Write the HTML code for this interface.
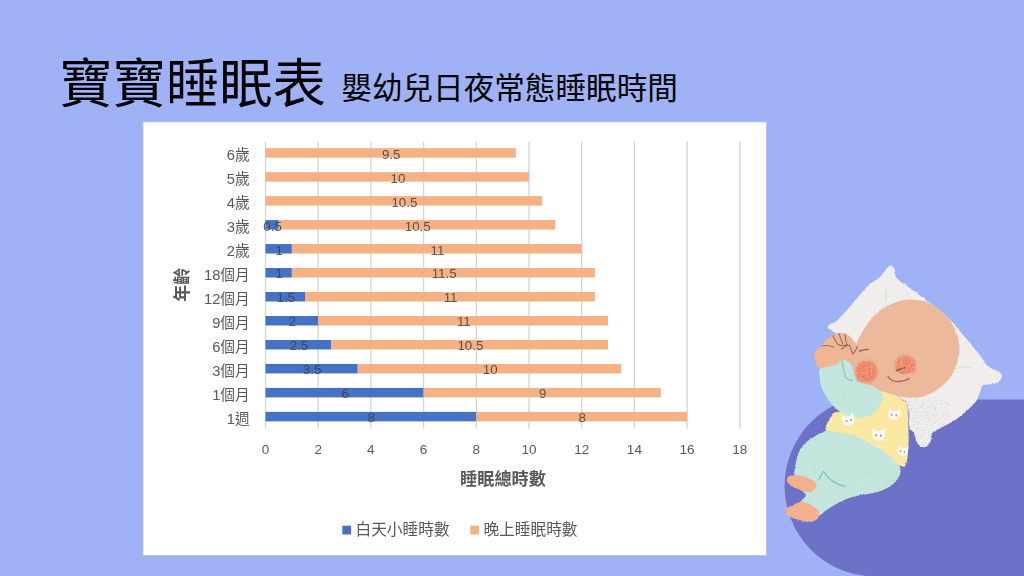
<!DOCTYPE html>
<html lang="zh-Hant"><head><meta charset="utf-8"><title>寶寶睡眠表</title>
<style>
html,body{margin:0;padding:0;width:1024px;height:576px;overflow:hidden;background:#9EB2F5;font-family:"Liberation Sans",sans-serif}
#stage{position:relative;width:1024px;height:576px;overflow:hidden;background:#9EB2F5}
#stage svg{position:absolute;left:0;top:0;display:block}
#stage svg text{font-family:"Liberation Sans","Noto Sans CJK TC",sans-serif}
</style></head><body>
<div id="stage">
<svg width="1024" height="576" viewBox="0 0 1024 576">
<defs><filter id="soft" x="-2%" y="-2%" width="104%" height="104%"><feGaussianBlur stdDeviation="0.35"/></filter></defs>
<path d="M848.73 399.50A90.40 90.40 0 0 0 875.00 576.40L1024 576.40L1024 399.50Z" fill="#6C72C8"/>
<text x="59.3" y="103.3" font-size="53.3" fill="#000">寶寶睡眠表</text>
<text x="341.3" y="99" font-size="30.6" fill="#000">嬰幼兒日夜常態睡眠時間</text>
<g filter="url(#soft)">
<rect x="143.00" y="121.90" width="623.40" height="433.50" fill="#fff" stroke="#B9BCE6" stroke-width="0.8"/>
<rect x="264.85" y="141.50" width="1.3" height="287.20" fill="#D5D5D5"/>
<rect x="317.55" y="141.50" width="1.3" height="287.20" fill="#D5D5D5"/>
<rect x="370.25" y="141.50" width="1.3" height="287.20" fill="#D5D5D5"/>
<rect x="422.95" y="141.50" width="1.3" height="287.20" fill="#D5D5D5"/>
<rect x="475.65" y="141.50" width="1.3" height="287.20" fill="#D5D5D5"/>
<rect x="528.35" y="141.50" width="1.3" height="287.20" fill="#D5D5D5"/>
<rect x="581.05" y="141.50" width="1.3" height="287.20" fill="#D5D5D5"/>
<rect x="633.75" y="141.50" width="1.3" height="287.20" fill="#D5D5D5"/>
<rect x="686.45" y="141.50" width="1.3" height="287.20" fill="#D5D5D5"/>
<rect x="739.15" y="141.50" width="1.3" height="287.20" fill="#D5D5D5"/>
<rect x="265.50" y="148.15" width="250.32" height="9.50" fill="#F4B183"/>
<rect x="265.50" y="172.12" width="263.50" height="9.50" fill="#F4B183"/>
<rect x="265.50" y="196.10" width="276.67" height="9.50" fill="#F4B183"/>
<rect x="265.50" y="220.08" width="13.17" height="9.50" fill="#4472C4"/>
<rect x="278.68" y="220.08" width="276.67" height="9.50" fill="#F4B183"/>
<rect x="265.50" y="244.05" width="26.35" height="9.50" fill="#4472C4"/>
<rect x="291.85" y="244.05" width="289.85" height="9.50" fill="#F4B183"/>
<rect x="265.50" y="268.02" width="26.35" height="9.50" fill="#4472C4"/>
<rect x="291.85" y="268.02" width="303.02" height="9.50" fill="#F4B183"/>
<rect x="265.50" y="292.00" width="39.52" height="9.50" fill="#4472C4"/>
<rect x="305.02" y="292.00" width="289.85" height="9.50" fill="#F4B183"/>
<rect x="265.50" y="315.98" width="52.70" height="9.50" fill="#4472C4"/>
<rect x="318.20" y="315.98" width="289.85" height="9.50" fill="#F4B183"/>
<rect x="265.50" y="339.95" width="65.88" height="9.50" fill="#4472C4"/>
<rect x="331.38" y="339.95" width="276.67" height="9.50" fill="#F4B183"/>
<rect x="265.50" y="363.93" width="92.22" height="9.50" fill="#4472C4"/>
<rect x="357.73" y="363.93" width="263.50" height="9.50" fill="#F4B183"/>
<rect x="265.50" y="387.90" width="158.10" height="9.50" fill="#4472C4"/>
<rect x="423.60" y="387.90" width="237.15" height="9.50" fill="#F4B183"/>
<rect x="265.50" y="411.88" width="210.80" height="9.50" fill="#4472C4"/>
<rect x="476.30" y="411.88" width="210.80" height="9.50" fill="#F4B183"/>
<g font-size="14.7" fill="#595959" text-anchor="end">
<text x="249.7" y="159.8">6歲</text>
<text x="249.7" y="183.8">5歲</text>
<text x="249.7" y="207.75">4歲</text>
<text x="249.7" y="231.7">3歲</text>
<text x="249.7" y="255.7">2歲</text>
<text x="249.7" y="279.67">18個月</text>
<text x="249.7" y="303.65">12個月</text>
<text x="249.7" y="327.6">9個月</text>
<text x="249.7" y="351.6">6個月</text>
<text x="249.7" y="375.6">3個月</text>
<text x="249.7" y="399.55">1個月</text>
<text x="249.7" y="423.5">1週</text>
</g>
<g font-size="13.3" fill="#404040" opacity="0.85" text-anchor="middle">
<text x="391.2" y="158.6">9.5</text>
<text x="397.9" y="182.57">10</text>
<text x="404.4" y="206.55">10.5</text>
<text x="272.6" y="230.53">0.5</text>
<text x="417.7" y="230.53">10.5</text>
<text x="279.3" y="254.5">1</text>
<text x="437.4" y="254.5">11</text>
<text x="279.3" y="278.47">1</text>
<text x="444.1" y="278.47">11.5</text>
<text x="286" y="302.45">1.5</text>
<text x="450.6" y="302.45">11</text>
<text x="292.4" y="326.43">2</text>
<text x="463.8" y="326.43">11</text>
<text x="299" y="350.4">2.5</text>
<text x="470.4" y="350.4">10.5</text>
<text x="312.1" y="374.38">3.5</text>
<text x="490.2" y="374.38">10</text>
<text x="345.2" y="398.35">6</text>
<text x="542.8" y="398.35">9</text>
<text x="371.5" y="422.33">8</text>
<text x="582.3" y="422.33">8</text>
</g>
<g font-size="13.6" fill="#595959" text-anchor="middle">
<text x="265.5" y="453.6">0</text>
<text x="318.2" y="453.6">2</text>
<text x="370.9" y="453.6">4</text>
<text x="423.6" y="453.6">6</text>
<text x="476.3" y="453.6">8</text>
<text x="529" y="453.6">10</text>
<text x="581.7" y="453.6">12</text>
<text x="634.4" y="453.6">14</text>
<text x="687.1" y="453.6">16</text>
<text x="739.8" y="453.6">18</text>
</g>
<text x="503" y="485.2" font-size="17.2" font-weight="bold" fill="#595959" text-anchor="middle">睡眠總時數</text>
<text x="0" y="0" font-size="17" font-weight="bold" fill="#595959" text-anchor="middle" transform="translate(187.8 284.8) rotate(-90)">年齡</text>
<rect x="342.3" y="525.7" width="8.8" height="8.8" fill="#4472C4"/>
<text x="355.5" y="534.9" font-size="15.7" fill="#595959">白天小睡時數</text>
<rect x="470.3" y="525.7" width="8.8" height="8.8" fill="#F4B183"/>
<text x="483.4" y="534.9" font-size="15.7" fill="#595959">晚上睡眠時數</text>
</g>
<defs>
<filter id="rough" x="-5%" y="-5%" width="110%" height="110%">
<feTurbulence type="fractalNoise" baseFrequency="0.35" numOctaves="2" seed="3" result="n"/>
<feDisplacementMap in="SourceGraphic" in2="n" scale="2.2" xChannelSelector="R" yChannelSelector="G"/>
</filter>
<filter id="speck" x="0" y="0" width="100%" height="100%">
<feTurbulence type="fractalNoise" baseFrequency="0.9" numOctaves="2" seed="11" result="n"/>
<feColorMatrix in="n" type="matrix" values="0 0 0 0 0.62  0 0 0 0 0.62  0 0 0 0 0.86  0 0 0 -9 4.6" result="sp"/>
<feComposite in="sp" in2="SourceAlpha" operator="in"/>
</filter>
<filter id="speck2" x="0" y="0" width="100%" height="100%">
<feTurbulence type="fractalNoise" baseFrequency="0.8" numOctaves="2" seed="5" result="n"/>
<feColorMatrix in="n" type="matrix" values="0 0 0 0 0.72  0 0 0 0 0.80  0 0 0 0 0.88  0 0 0 -9 4.3" result="sp"/>
<feComposite in="sp" in2="SourceAlpha" operator="in"/>
</filter>
<filter id="speckw" x="0" y="0" width="100%" height="100%">
<feTurbulence type="fractalNoise" baseFrequency="0.8" numOctaves="2" seed="8" result="n"/>
<feColorMatrix in="n" type="matrix" values="0 0 0 0 1  0 0 0 0 1  0 0 0 0 1  0 0 0 -9 4.2" result="sp"/>
<feComposite in="sp" in2="SourceAlpha" operator="in"/>
</filter>
<filter id="catblur"><feGaussianBlur stdDeviation="0.5"/></filter>
<filter id="specks" x="0" y="0" width="100%" height="100%">
<feTurbulence type="fractalNoise" baseFrequency="0.55" numOctaves="2" seed="21" result="n"/>
<feColorMatrix in="n" type="matrix" values="0 0 0 0 0.95  0 0 0 0 0.74  0 0 0 0 0.62  0 0 0 -7 3.6" result="sp"/>
<feComposite in="sp" in2="SourceAlpha" operator="in"/>
</filter>
<filter id="speckL" x="0" y="0" width="100%" height="100%">
<feTurbulence type="fractalNoise" baseFrequency="0.7" numOctaves="2" seed="17" result="n"/>
<feColorMatrix in="n" type="matrix" values="0 0 0 0 0.60  0 0 0 0 0.62  0 0 0 0 0.80  0 0 0 -12 5.3" result="sp"/>
<feComposite in="sp" in2="SourceAlpha" operator="in"/>
</filter>
<filter id="cheekblur" x="-20%" y="-20%" width="140%" height="140%"><feGaussianBlur stdDeviation="1.3"/></filter>
</defs>
<g filter="url(#rough)">
<path d="M890.5 265.5C891.8 265.7 893.5 266.9 894.5 269.0C895.5 271.1 894.4 275.2 896.5 278.0C898.6 280.8 903.3 283.2 907.0 286.0C910.7 288.8 914.5 291.6 918.5 294.5C922.5 297.4 926.8 300.3 931.0 303.5C935.2 306.7 939.7 310.1 943.5 313.5C947.3 316.9 950.7 320.3 954.0 324.0C957.3 327.7 960.2 331.6 963.5 335.5C966.8 339.4 970.4 343.4 973.8 347.5C977.1 351.6 981.2 356.9 983.5 360.0C985.8 363.1 985.8 364.4 987.5 366.0C989.2 367.6 991.9 368.4 994.0 369.5C996.1 370.6 998.7 371.3 1000.0 372.5C1001.3 373.7 1002.0 375.2 1002.0 376.5C1002.0 377.8 1001.2 379.3 1000.0 380.5C998.8 381.7 997.0 382.8 995.0 383.5C993.0 384.2 990.1 384.2 988.0 384.5C985.9 384.8 983.8 384.4 982.5 385.5C981.2 386.6 981.2 389.2 980.5 391.0C979.8 392.8 979.2 394.2 978.5 396.0C977.8 397.8 978.1 398.9 976.0 401.5C973.9 404.1 969.5 408.4 966.0 411.5C962.5 414.6 958.5 417.8 954.8 420.2C951.0 422.8 947.0 424.5 943.5 426.5C940.0 428.5 935.5 430.6 933.5 432.0C931.5 433.4 932.1 433.4 931.6 435.0C931.1 436.6 931.2 439.7 930.5 441.5C929.8 443.3 928.4 445.1 927.2 446.0C926.1 446.9 924.9 447.3 923.5 447.2C922.1 447.1 920.4 446.4 919.1 445.2C917.9 444.1 916.8 442.1 916.0 440.2C915.2 438.4 915.6 436.3 914.5 434.0C913.4 431.7 910.5 430.7 909.5 426.5C908.5 422.3 908.8 413.1 908.2 409.0C907.7 404.9 907.5 404.2 906.0 402.0C904.5 399.8 903.3 401.3 899.0 396.0C894.7 390.7 888.2 378.5 880.0 370.0C871.8 361.5 857.8 351.4 850.0 345.0C842.2 338.6 836.6 334.2 833.0 331.5C829.4 328.8 829.3 329.4 828.5 328.5C827.7 327.6 827.6 326.8 828.0 326.0C828.4 325.2 829.8 324.2 831.0 323.5C832.2 322.8 833.6 323.4 835.5 322.0C837.4 320.6 840.1 317.6 842.5 315.0C844.9 312.4 847.3 309.6 850.0 306.5C852.7 303.4 855.7 299.8 858.5 296.5C861.3 293.2 864.2 289.7 867.0 287.0C869.8 284.3 872.8 282.2 875.0 280.5C877.2 278.8 878.5 278.4 880.0 277.0C881.5 275.6 882.8 273.5 884.0 272.0C885.2 270.5 885.9 269.1 887.0 268.0C888.1 266.9 889.2 265.3 890.5 265.5Z" fill="#F2EFEC"/>
</g>
<g filter="url(#rough)" opacity="0.12"><path d="M890.5 265.5C891.8 265.7 893.5 266.9 894.5 269.0C895.5 271.1 894.4 275.2 896.5 278.0C898.6 280.8 903.3 283.2 907.0 286.0C910.7 288.8 914.5 291.6 918.5 294.5C922.5 297.4 926.8 300.3 931.0 303.5C935.2 306.7 939.7 310.1 943.5 313.5C947.3 316.9 950.7 320.3 954.0 324.0C957.3 327.7 960.2 331.6 963.5 335.5C966.8 339.4 970.4 343.4 973.8 347.5C977.1 351.6 981.2 356.9 983.5 360.0C985.8 363.1 985.8 364.4 987.5 366.0C989.2 367.6 991.9 368.4 994.0 369.5C996.1 370.6 998.7 371.3 1000.0 372.5C1001.3 373.7 1002.0 375.2 1002.0 376.5C1002.0 377.8 1001.2 379.3 1000.0 380.5C998.8 381.7 997.0 382.8 995.0 383.5C993.0 384.2 990.1 384.2 988.0 384.5C985.9 384.8 983.8 384.4 982.5 385.5C981.2 386.6 981.2 389.2 980.5 391.0C979.8 392.8 979.2 394.2 978.5 396.0C977.8 397.8 978.1 398.9 976.0 401.5C973.9 404.1 969.5 408.4 966.0 411.5C962.5 414.6 958.5 417.8 954.8 420.2C951.0 422.8 947.0 424.5 943.5 426.5C940.0 428.5 935.5 430.6 933.5 432.0C931.5 433.4 932.1 433.4 931.6 435.0C931.1 436.6 931.2 439.7 930.5 441.5C929.8 443.3 928.4 445.1 927.2 446.0C926.1 446.9 924.9 447.3 923.5 447.2C922.1 447.1 920.4 446.4 919.1 445.2C917.9 444.1 916.8 442.1 916.0 440.2C915.2 438.4 915.6 436.3 914.5 434.0C913.4 431.7 910.5 430.7 909.5 426.5C908.5 422.3 908.8 413.1 908.2 409.0C907.7 404.9 907.5 404.2 906.0 402.0C904.5 399.8 903.3 401.3 899.0 396.0C894.7 390.7 888.2 378.5 880.0 370.0C871.8 361.5 857.8 351.4 850.0 345.0C842.2 338.6 836.6 334.2 833.0 331.5C829.4 328.8 829.3 329.4 828.5 328.5C827.7 327.6 827.6 326.8 828.0 326.0C828.4 325.2 829.8 324.2 831.0 323.5C832.2 322.8 833.6 323.4 835.5 322.0C837.4 320.6 840.1 317.6 842.5 315.0C844.9 312.4 847.3 309.6 850.0 306.5C852.7 303.4 855.7 299.8 858.5 296.5C861.3 293.2 864.2 289.7 867.0 287.0C869.8 284.3 872.8 282.2 875.0 280.5C877.2 278.8 878.5 278.4 880.0 277.0C881.5 275.6 882.8 273.5 884.0 272.0C885.2 270.5 885.9 269.1 887.0 268.0C888.1 266.9 889.2 265.3 890.5 265.5Z" fill="#000" filter="url(#speck)"/></g>
<g filter="url(#rough)" opacity="0.55"><path d="M906.0 400.0C912.1 398.5 937.7 398.0 945.0 400.0C952.3 402.0 950.2 407.6 950.0 412.0C949.8 416.4 946.2 423.2 943.5 426.5C940.8 429.8 935.7 429.5 933.5 432.0C931.3 434.5 932.2 439.0 930.5 441.5C928.8 444.0 925.9 447.4 923.5 447.2C921.1 447.0 918.3 443.7 916.0 440.2C913.7 436.8 910.8 431.7 909.5 426.5C908.2 421.3 908.8 413.4 908.2 409.0C907.7 404.6 899.9 401.5 906.0 400.0Z" fill="#000" filter="url(#speckL)"/></g>
<g filter="url(#rough)">
<path d="M825.5 431.0C821.0 432.1 816.8 435.1 813.0 437.5C809.2 439.9 805.5 442.6 803.0 445.5C800.5 448.4 799.3 451.4 798.0 455.0C796.7 458.6 795.6 463.5 795.0 467.0C794.4 470.5 794.2 473.2 794.5 476.0C794.8 478.8 795.9 481.7 797.0 484.0C798.1 486.3 799.5 488.2 801.0 490.0C802.5 491.8 805.8 493.4 806.0 495.0C806.2 496.6 802.9 498.2 802.0 499.5C801.1 500.8 800.0 501.2 800.5 503.0C801.0 504.8 803.1 507.8 805.0 510.0C806.9 512.2 809.8 514.9 812.0 516.0C814.2 517.1 815.6 517.5 818.0 516.5C820.4 515.5 823.6 512.0 826.5 510.0C829.4 508.0 832.8 506.1 835.5 504.5C838.2 502.9 840.5 501.7 843.0 500.5C845.5 499.3 847.6 498.4 850.5 497.5C853.4 496.6 857.6 495.6 860.5 495.0C863.4 494.4 865.5 494.4 868.0 494.0C870.5 493.6 873.2 493.1 875.5 492.5C877.8 491.9 879.9 491.3 882.0 490.5C884.1 489.7 886.2 488.6 888.0 487.5C889.8 486.4 891.5 485.2 893.0 484.0C894.5 482.8 895.7 481.3 896.8 480.0C897.8 478.7 898.9 477.4 899.5 476.0C900.1 474.6 900.4 473.0 900.5 471.5C900.6 470.0 900.4 468.3 900.0 467.0C899.6 465.7 900.2 466.0 898.0 463.5C895.8 461.0 890.8 455.2 887.0 452.0C883.2 448.8 879.8 446.7 875.0 444.0C870.2 441.3 863.8 438.2 858.0 436.0C852.2 433.8 845.4 431.8 840.0 431.0C834.6 430.2 830.0 429.9 825.5 431.0Z" fill="#BFE6D9"/>
<path d="M825.5 431.0C821.0 432.1 816.8 435.1 813.0 437.5C809.2 439.9 805.5 442.6 803.0 445.5C800.5 448.4 799.3 451.4 798.0 455.0C796.7 458.6 795.6 463.5 795.0 467.0C794.4 470.5 794.2 473.2 794.5 476.0C794.8 478.8 795.9 481.7 797.0 484.0C798.1 486.3 799.5 488.2 801.0 490.0C802.5 491.8 805.8 493.4 806.0 495.0C806.2 496.6 802.9 498.2 802.0 499.5C801.1 500.8 800.0 501.2 800.5 503.0C801.0 504.8 803.1 507.8 805.0 510.0C806.9 512.2 809.8 514.9 812.0 516.0C814.2 517.1 815.6 517.5 818.0 516.5C820.4 515.5 823.6 512.0 826.5 510.0C829.4 508.0 832.8 506.1 835.5 504.5C838.2 502.9 840.5 501.7 843.0 500.5C845.5 499.3 847.6 498.4 850.5 497.5C853.4 496.6 857.6 495.6 860.5 495.0C863.4 494.4 865.5 494.4 868.0 494.0C870.5 493.6 873.2 493.1 875.5 492.5C877.8 491.9 879.9 491.3 882.0 490.5C884.1 489.7 886.2 488.6 888.0 487.5C889.8 486.4 891.5 485.2 893.0 484.0C894.5 482.8 895.7 481.3 896.8 480.0C897.8 478.7 898.9 477.4 899.5 476.0C900.1 474.6 900.4 473.0 900.5 471.5C900.6 470.0 900.4 468.3 900.0 467.0C899.6 465.7 900.2 466.0 898.0 463.5C895.8 461.0 890.8 455.2 887.0 452.0C883.2 448.8 879.8 446.7 875.0 444.0C870.2 441.3 863.8 438.2 858.0 436.0C852.2 433.8 845.4 431.8 840.0 431.0C834.6 430.2 830.0 429.9 825.5 431.0Z" fill="#000" filter="url(#speck2)" opacity="0.5"/>
<path d="M787.0 479.0C787.2 477.8 788.0 476.6 789.5 476.0C791.0 475.4 793.6 475.4 796.0 475.5C798.4 475.6 801.5 475.8 804.0 476.5C806.5 477.2 809.1 478.5 811.0 479.5C812.9 480.5 814.6 481.4 815.5 482.5C816.4 483.6 816.8 484.8 816.5 486.0C816.2 487.2 815.2 489.0 814.0 490.0C812.8 491.0 811.2 491.8 809.5 492.0C807.8 492.2 805.9 492.0 804.0 491.5C802.1 491.0 800.0 489.8 798.0 489.0C796.0 488.2 793.7 487.4 792.0 486.5C790.3 485.6 788.8 484.8 788.0 483.5C787.2 482.2 786.8 480.2 787.0 479.0Z" fill="#F2B08C"/>
<path d="M785.5 511.0C785.7 509.9 786.3 508.4 787.5 507.5C788.7 506.6 790.9 506.2 792.5 505.5C794.1 504.8 795.4 503.6 797.0 503.0C798.6 502.4 800.1 501.9 802.0 502.0C803.9 502.1 806.3 502.6 808.5 503.5C810.7 504.4 813.3 506.2 815.0 507.5C816.7 508.8 817.8 509.7 818.5 511.0C819.2 512.3 819.3 514.1 819.0 515.5C818.7 516.9 817.6 518.5 816.5 519.5C815.4 520.5 814.1 521.1 812.5 521.5C810.9 521.9 808.8 522.2 807.0 522.0C805.2 521.8 803.9 521.0 802.0 520.5C800.1 520.0 797.6 519.7 795.5 519.0C793.4 518.3 791.0 517.3 789.5 516.5C788.0 515.7 787.2 514.9 786.5 514.0C785.8 513.1 785.3 512.1 785.5 511.0Z" fill="#F2B08C"/>
<path d="M825.5 429.0C825.5 427.8 826.3 425.1 827.0 423.5C827.7 421.9 828.7 420.8 829.5 419.5C830.3 418.2 831.0 416.7 832.0 415.5C833.0 414.3 830.8 413.8 835.5 412.5C840.2 411.2 853.2 410.8 860.0 408.0C866.8 405.2 872.7 398.8 876.0 396.0C879.3 393.2 878.7 392.2 880.0 391.0C881.3 389.8 882.5 388.8 884.0 388.5C885.5 388.2 887.5 388.8 889.0 389.5C890.5 390.2 891.5 391.8 893.0 393.0C894.5 394.2 896.3 395.2 898.0 396.5C899.7 397.8 901.5 399.2 903.0 400.5C904.5 401.8 906.2 401.2 907.0 404.0C907.8 406.8 907.8 412.7 908.0 417.0C908.2 421.3 908.4 425.5 908.5 430.0C908.6 434.5 908.7 439.4 908.5 444.0C908.3 448.6 907.8 454.4 907.5 457.5C907.2 460.6 907.0 461.0 906.5 462.5C906.0 464.0 905.4 465.9 904.5 466.5C903.6 467.1 902.1 466.4 901.0 466.0C899.9 465.6 899.2 464.9 898.0 464.0C896.8 463.1 895.2 461.8 894.0 460.5C892.8 459.2 892.2 458.1 890.5 456.5C888.8 454.9 886.0 452.7 883.5 451.0C881.0 449.3 878.4 448.2 875.5 446.5C872.6 444.8 869.3 442.7 866.0 441.0C862.7 439.3 858.5 437.7 855.5 436.5C852.5 435.3 850.5 434.7 848.0 434.0C845.5 433.3 843.0 432.9 840.5 432.5C838.0 432.1 835.2 431.8 833.0 431.5C830.8 431.2 828.2 431.4 827.0 431.0C825.8 430.6 825.5 430.2 825.5 429.0Z" fill="#FBE79C"/>
<path d="M825.5 429.0C825.5 427.8 826.3 425.1 827.0 423.5C827.7 421.9 828.7 420.8 829.5 419.5C830.3 418.2 831.0 416.7 832.0 415.5C833.0 414.3 830.8 413.8 835.5 412.5C840.2 411.2 853.2 410.8 860.0 408.0C866.8 405.2 872.7 398.8 876.0 396.0C879.3 393.2 878.7 392.2 880.0 391.0C881.3 389.8 882.5 388.8 884.0 388.5C885.5 388.2 887.5 388.8 889.0 389.5C890.5 390.2 891.5 391.8 893.0 393.0C894.5 394.2 896.3 395.2 898.0 396.5C899.7 397.8 901.5 399.2 903.0 400.5C904.5 401.8 906.2 401.2 907.0 404.0C907.8 406.8 907.8 412.7 908.0 417.0C908.2 421.3 908.4 425.5 908.5 430.0C908.6 434.5 908.7 439.4 908.5 444.0C908.3 448.6 907.8 454.4 907.5 457.5C907.2 460.6 907.0 461.0 906.5 462.5C906.0 464.0 905.4 465.9 904.5 466.5C903.6 467.1 902.1 466.4 901.0 466.0C899.9 465.6 899.2 464.9 898.0 464.0C896.8 463.1 895.2 461.8 894.0 460.5C892.8 459.2 892.2 458.1 890.5 456.5C888.8 454.9 886.0 452.7 883.5 451.0C881.0 449.3 878.4 448.2 875.5 446.5C872.6 444.8 869.3 442.7 866.0 441.0C862.7 439.3 858.5 437.7 855.5 436.5C852.5 435.3 850.5 434.7 848.0 434.0C845.5 433.3 843.0 432.9 840.5 432.5C838.0 432.1 835.2 431.8 833.0 431.5C830.8 431.2 828.2 431.4 827.0 431.0C825.8 430.6 825.5 430.2 825.5 429.0Z" fill="#000" filter="url(#speckw)" opacity="0.28"/>
<path d="M908.0 299.5C914.2 299.2 922.2 300.3 928.0 302.5C933.8 304.7 938.6 308.3 943.0 312.5C947.4 316.7 951.5 322.1 954.2 327.5C957.0 332.9 958.6 339.6 959.2 345.0C959.9 350.4 959.2 355.0 958.0 360.0C956.8 365.0 954.2 370.8 951.8 375.0C949.2 379.2 946.5 381.9 943.0 385.0C939.5 388.1 934.7 391.7 930.5 393.8C926.3 395.8 922.2 396.9 918.0 397.5C913.8 398.1 909.7 398.0 905.5 397.5C901.3 397.0 897.1 395.6 893.0 394.5C888.9 393.4 884.7 392.3 881.0 391.0C877.3 389.7 874.4 387.8 871.0 386.5C867.6 385.2 863.3 384.8 860.5 383.0C857.7 381.2 855.2 379.0 854.0 376.0C852.8 373.0 852.8 369.8 853.0 365.0C853.2 360.2 854.5 352.0 855.5 347.5C856.5 343.0 857.1 341.8 859.0 338.0C860.9 334.2 864.0 328.7 867.0 324.5C870.0 320.3 873.1 316.3 877.0 313.0C880.9 309.7 885.3 306.8 890.5 304.5C895.7 302.2 901.8 299.8 908.0 299.5Z" fill="#EDB99C"/>
<path d="M814.5 355.0C814.6 352.7 815.2 351.0 816.5 349.5C817.8 348.0 820.5 347.5 822.0 346.0C823.5 344.5 824.1 342.1 825.5 340.5C826.9 338.9 828.8 337.7 830.5 336.5C832.2 335.3 834.0 334.1 836.0 333.5C838.0 332.9 840.4 332.7 842.5 333.0C844.6 333.3 846.7 334.2 848.5 335.5C850.3 336.8 852.1 338.8 853.5 340.5C854.9 342.2 856.2 343.8 857.0 345.5C857.8 347.2 858.5 349.0 858.5 351.0C858.5 353.0 858.1 355.4 857.0 357.5C855.9 359.6 854.0 361.8 852.0 363.5C850.0 365.2 847.6 366.4 845.0 367.5C842.4 368.6 839.5 369.4 836.5 370.0C833.5 370.6 829.8 371.2 827.0 371.0C824.2 370.8 821.8 370.2 820.0 369.0C818.2 367.8 816.9 365.8 816.0 363.5C815.1 361.2 814.4 357.3 814.5 355.0Z" fill="#F1B594"/>
<path d="M819.5 370.0C820.4 368.1 822.8 367.8 825.0 367.0C827.2 366.2 830.8 366.1 833.0 365.5C835.2 364.9 837.0 364.5 838.5 363.5C840.0 362.5 840.5 359.9 842.0 359.5C843.5 359.1 845.8 360.0 847.5 361.0C849.2 362.0 850.8 363.5 852.0 365.5C853.2 367.5 853.8 370.6 854.5 373.0C855.2 375.4 855.1 378.4 856.0 380.0C856.9 381.6 858.4 381.8 860.0 382.5C861.6 383.2 863.7 383.5 865.5 384.0C867.3 384.5 869.3 384.9 871.0 385.5C872.7 386.1 874.0 386.6 875.5 387.5C877.0 388.4 878.8 389.8 880.0 391.0C881.2 392.2 882.5 393.7 883.0 395.0C883.5 396.3 883.5 397.8 883.3 399.0C883.0 400.2 882.4 400.9 881.5 402.5C880.6 404.1 879.4 406.7 878.0 408.5C876.6 410.3 874.8 412.2 873.0 413.5C871.2 414.8 869.1 415.8 867.0 416.5C864.9 417.2 863.1 417.5 860.5 417.5C857.9 417.5 854.4 417.2 851.5 416.5C848.6 415.8 845.6 414.8 843.0 413.5C840.4 412.2 838.1 410.3 836.0 408.5C833.9 406.7 832.2 404.7 830.5 402.5C828.8 400.3 827.0 398.0 825.5 395.5C824.0 393.0 822.5 390.3 821.5 387.5C820.5 384.7 820.1 381.4 819.8 378.5C819.5 375.6 818.6 371.9 819.5 370.0Z" fill="#BFE6D9"/>
<path d="M819.5 370.0C820.4 368.1 822.8 367.8 825.0 367.0C827.2 366.2 830.8 366.1 833.0 365.5C835.2 364.9 837.0 364.5 838.5 363.5C840.0 362.5 840.5 359.9 842.0 359.5C843.5 359.1 845.8 360.0 847.5 361.0C849.2 362.0 850.8 363.5 852.0 365.5C853.2 367.5 853.8 370.6 854.5 373.0C855.2 375.4 855.1 378.4 856.0 380.0C856.9 381.6 858.4 381.8 860.0 382.5C861.6 383.2 863.7 383.5 865.5 384.0C867.3 384.5 869.3 384.9 871.0 385.5C872.7 386.1 874.0 386.6 875.5 387.5C877.0 388.4 878.8 389.8 880.0 391.0C881.2 392.2 882.5 393.7 883.0 395.0C883.5 396.3 883.5 397.8 883.3 399.0C883.0 400.2 882.4 400.9 881.5 402.5C880.6 404.1 879.4 406.7 878.0 408.5C876.6 410.3 874.8 412.2 873.0 413.5C871.2 414.8 869.1 415.8 867.0 416.5C864.9 417.2 863.1 417.5 860.5 417.5C857.9 417.5 854.4 417.2 851.5 416.5C848.6 415.8 845.6 414.8 843.0 413.5C840.4 412.2 838.1 410.3 836.0 408.5C833.9 406.7 832.2 404.7 830.5 402.5C828.8 400.3 827.0 398.0 825.5 395.5C824.0 393.0 822.5 390.3 821.5 387.5C820.5 384.7 820.1 381.4 819.8 378.5C819.5 375.6 818.6 371.9 819.5 370.0Z" fill="#000" filter="url(#speck2)" opacity="0.5"/>
</g>
<g fill="none" stroke="#CFE8D6" stroke-width="1.6" stroke-linecap="round" opacity="0.9"><path d="M958.5 367.5C962 366.5 967 366.8 971 368"/><path d="M885.5 290C886.5 293.5 886.8 297 886.3 300.5"/></g>
<g opacity="0.88" filter="url(#catblur)"><g transform="translate(848.8 420.5) rotate(-15) scale(1.20)"><path d="M-5 -1L-4.6 -6L-1.8 -3.6L1.8 -3.6L4.6 -6L5 -1C5 2.5 2.8 4 0 4C-2.8 4 -5 2.5 -5 -1Z" fill="#FBF9FA"/><circle cx="-1.9" cy="0" r="0.85" fill="#7F96CC"/><circle cx="1.9" cy="0" r="0.85" fill="#7F96CC"/></g><g transform="translate(894.0 415.0) rotate(8) scale(1.20)"><path d="M-5 -1L-4.6 -6L-1.8 -3.6L1.8 -3.6L4.6 -6L5 -1C5 2.5 2.8 4 0 4C-2.8 4 -5 2.5 -5 -1Z" fill="#FBF9FA"/><circle cx="-1.9" cy="0" r="0.85" fill="#7F96CC"/><circle cx="1.9" cy="0" r="0.85" fill="#7F96CC"/></g><g transform="translate(878.5 435.5) rotate(5) scale(1.30)"><path d="M-5 -1L-4.6 -6L-1.8 -3.6L1.8 -3.6L4.6 -6L5 -1C5 2.5 2.8 4 0 4C-2.8 4 -5 2.5 -5 -1Z" fill="#FBF9FA"/><circle cx="-1.9" cy="0" r="0.85" fill="#7F96CC"/><circle cx="1.9" cy="0" r="0.85" fill="#7F96CC"/></g><g transform="translate(902.5 451.5) rotate(12) scale(1.05)"><path d="M-5 -1L-4.6 -6L-1.8 -3.6L1.8 -3.6L4.6 -6L5 -1C5 2.5 2.8 4 0 4C-2.8 4 -5 2.5 -5 -1Z" fill="#FBF9FA"/><circle cx="-1.9" cy="0" r="0.85" fill="#7F96CC"/><circle cx="1.9" cy="0" r="0.85" fill="#7F96CC"/></g></g>
<g fill="none" stroke-linecap="round">
<circle cx="866.5" cy="371.8" r="11.3" fill="#EE7C60" opacity="0.9" filter="url(#cheekblur)"/>
<circle cx="905.5" cy="366" r="10.7" fill="#EE7C60" opacity="0.85" filter="url(#cheekblur)"/>
<circle cx="866.5" cy="371.8" r="11.8" fill="#000" filter="url(#specks)" opacity="0.3"/>
<circle cx="905.5" cy="366" r="11.2" fill="#000" filter="url(#specks)" opacity="0.3"/>
<path d="M896 374.5C900 378 906 378.5 911 375.5" stroke="#EDB99C" stroke-width="6"/>
<path d="M896.5 370.5C899.5 369.5 902 368.5 905 367.5" stroke="#8A6658" stroke-width="1.6"/>
<path d="M859.5 351C862 350 865 349.5 868 349.5" stroke="#8A6658" stroke-width="1.6"/>
<path d="M888 376.5C890 380 894.5 381.8 899 381.5C903 381.2 906.5 380.3 909 378.5" stroke="#A5624E" stroke-width="1.3"/>
<path d="M833 336C834.5 339 836 342 838 344.5M839 333.5C840 337 841.5 341 843 344M845 334.5C845.5 338 846 341 846.5 344.5M838 344.5C841 346 844.5 346 847.5 344.5M841.5 349C844 347 847 345.5 849.5 345M849.5 345C850.5 348.5 851.5 351.5 853 354M853 354C855 351.5 856.5 349 857.5 346.5M822 346C826 345 830 345.5 833.5 347" stroke="#8A7268" stroke-width="1.1"/>
<path d="M842 359C842.5 365 843.5 371 845.5 376.5C847 379 849.5 380.5 852.5 380.5" stroke="#8CC9C0" stroke-width="1.3"/>
<path d="M818.6 480C820 477 821.8 474 823.3 471.3C825.5 474.5 828 477.5 831 480C834.5 482.8 839 485 844.5 486.3" stroke="#7CC7BD" stroke-width="1.3" stroke-linejoin="round"/>
</g>
</svg>
</div>
</body></html>
